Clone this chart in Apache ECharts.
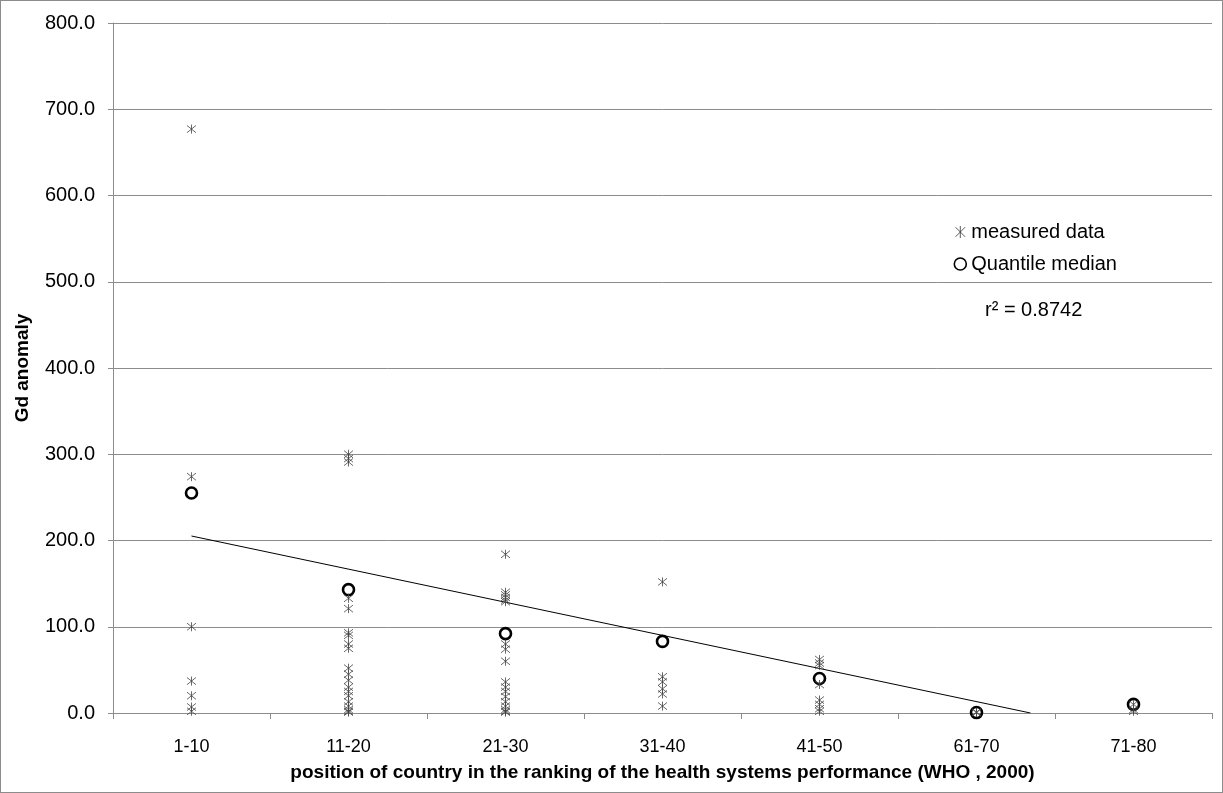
<!DOCTYPE html>
<html>
<head>
<meta charset="utf-8">
<script src="https://cdn.jsdelivr.net/npm/echarts@6/dist/echarts.min.js"></script>
<style>
html,body{margin:0;padding:0;background:#fff;}
#c{width:1223px;height:793px;box-sizing:border-box;border:1px solid #8c8c8c;}
</style>
</head>
<body>
<div id="c"></div>
<script>
// ---- data ----
var categories = ['1-10', '11-20', '21-30', '31-40', '41-50', '61-70', '71-80'];
var measured_1_10  = [677, 274, 100, 37, 20, 7, 2];
var measured_11_20 = [300, 295, 291, 133, 121, 93, 90, 80, 75, 52, 45, 38, 30, 25, 20, 13, 8, 4, 2, 1];
var measured_21_30 = [184, 140, 137, 134, 131, 129, 80, 74, 60, 36, 30, 25, 19, 13, 8, 4, 2, 1];
var measured_31_40 = [152, 42, 36, 28, 22, 8];
var measured_41_50 = [62, 58, 55, 33, 15, 10, 5, 2];
var measured_61_70 = [1, 0.5];
var measured_71_80 = [10, 4, 2];
var quantileMedian = [255, 143, 92, 83, 40, 0.5, 10];
var trendIntercept = 205.2;   // value of the linear trend at the first category
var trendSlope = -38.4;       // change per category
var yTicks = [0, 100, 200, 300, 400, 500, 600, 700, 800];
var rSquaredText = 'r\u00b2 = 0.8742';

var measuredGroups = [measured_1_10, measured_11_20, measured_21_30, measured_31_40,
                      measured_41_50, measured_61_70, measured_71_80];
var measuredData = [];
measuredGroups.forEach(function (g, i) {
  g.forEach(function (v) { measuredData.push([i, v]); });
});
var medianData = quantileMedian.map(function (v, i) { return [i, v]; });
var trendEnd = -trendIntercept / trendSlope;
var trendData = [[0, trendIntercept], [trendEnd, 0]];

var starPath = 'path://M0,-5L0,5M-4,-4L4,4M-4,4L4,-4';
var font = 'Liberation Sans, Arial, sans-serif';

var chart = echarts.init(document.getElementById('c'));
chart.setOption({
  animation: false,
  textStyle: { fontFamily: font },
  grid: { left: 112, right: 10, top: 22, bottom: 79, containLabel: false, outerBoundsMode: 'none' },
  legend: {
    orient: 'vertical',
    left: 947,
    top: 216,
    itemGap: 12,
    itemWidth: 12,
    itemHeight: 12,
    textStyle: { fontSize: 20, color: '#000', fontFamily: font },
    data: [
      { name: 'measured data', icon: starPath,
        itemStyle: { color: 'none', borderColor: '#333', borderWidth: 1 } },
      { name: 'Quantile median', icon: 'circle',
        itemStyle: { color: '#fff', borderColor: '#000', borderWidth: 1.6 } }
    ]
  },
  graphic: [{
    type: 'text', left: 984, top: 299,
    style: { text: rSquaredText, font: '20px ' + font, fill: '#000' }
  }],
  xAxis: [{
    type: 'category',
    data: categories,
    boundaryGap: true,
    name: 'position of country in the ranking of the health systems performance (WHO , 2000)',
    nameLocation: 'middle',
    nameGap: 50,
    nameTextStyle: { fontSize: 19, fontWeight: 'bold', color: '#000', fontFamily: font },
    axisLine: { onZero: false, lineStyle: { color: '#8c8c8c', width: 1 } },
    axisTick: { show: true, length: 6, lineStyle: { color: '#8c8c8c' } },
    axisLabel: { fontSize: 18, color: '#000', margin: 25, fontFamily: font },
    splitLine: { show: false }
  }, {
    type: 'value',
    min: -0.5,
    max: 6.5,
    show: false
  }],
  yAxis: {
    type: 'value',
    min: yTicks[0],
    max: yTicks[yTicks.length - 1],
    interval: 100,
    name: 'Gd anomaly',
    nameLocation: 'middle',
    nameGap: 81,
    nameTextStyle: { fontSize: 19, fontWeight: 'bold', color: '#000', fontFamily: font },
    axisLine: { show: true, onZero: false, lineStyle: { color: '#8c8c8c', width: 1 } },
    axisTick: { show: true, length: 5, lineStyle: { color: '#8c8c8c' } },
    axisLabel: { fontSize: 20, color: '#000', margin: 18, fontFamily: font,
      formatter: function (v) { return v.toFixed(1); } },
    splitLine: { lineStyle: { color: '#8c8c8c', width: 1 } }
  },
  series: [{
    name: 'measured data',
    type: 'scatter',
    xAxisIndex: 0,
    data: measuredData,
    symbol: starPath,
    symbolSize: 9,
    itemStyle: { color: 'none', borderColor: '#444', borderWidth: 1 },
    z: 3
  }, {
    name: 'Quantile median',
    type: 'scatter',
    xAxisIndex: 0,
    data: medianData,
    symbol: 'circle',
    symbolSize: 11,
    itemStyle: { color: 'none', borderColor: '#000', borderWidth: 2.6, opacity: 1 },
    z: 2
  }, {
    name: 'trend',
    type: 'line',
    xAxisIndex: 1,
    data: trendData,
    symbol: 'none',
    lineStyle: { color: '#000', width: 1 },
    z: 1
  }]
});
</script>
</body>
</html>
